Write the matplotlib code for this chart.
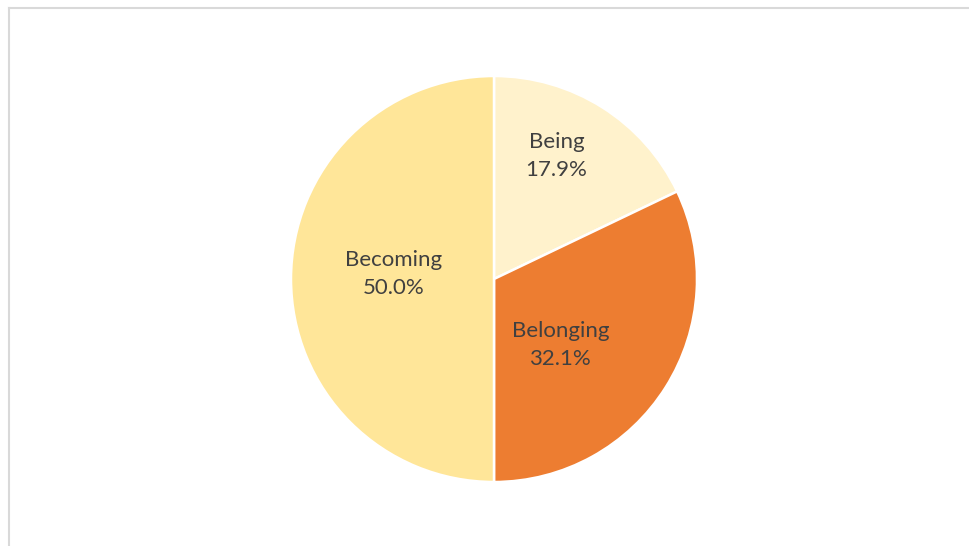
import matplotlib.pyplot as plt
from matplotlib.lines import Line2D

labels = ['Being', 'Belonging', 'Becoming']
shares = [17.9, 32.1, 50.0]
colors = ['#FFF2CC', '#ED7D31', '#FFE699']
# where each data label sits, in axes data units (radius = 1)
label_pos = [(0.307, 0.604), (0.327, -0.327), (-0.495, 0.025)]

W, H = 969, 546
fig = plt.figure(figsize=(W / 100, H / 100), dpi=100)

# chart frame: only the top and left edges show
fig.add_artist(Line2D([9 / W, 1], [1 - 7.5 / H, 1 - 7.5 / H], color='#D9D9D9', lw=1.5))
fig.add_artist(Line2D([9 / W, 9 / W], [0, 1 - 7.5 / H], color='#D9D9D9', lw=1.5))

cx, cy, r = 494, 279, 203
ax = fig.add_axes([(cx - r) / W, (H - cy - r) / H, 2 * r / W, 2 * r / H])
ax.pie(shares, colors=colors, startangle=90, counterclock=False, radius=1,
       wedgeprops=dict(edgecolor='white', linewidth=1.8))
ax.set_xlim(-1, 1)
ax.set_ylim(-1, 1)
ax.set_aspect('equal')
ax.axis('off')

for name, val, (x, y) in zip(labels, shares, label_pos):
    ax.text(x, y, f'{name}\n{val:.1f}%', ha='center', va='center',
            fontsize=16, family='Lato', color='#404040', linespacing=1.5)

fig.savefig('out.png', dpi=100)
